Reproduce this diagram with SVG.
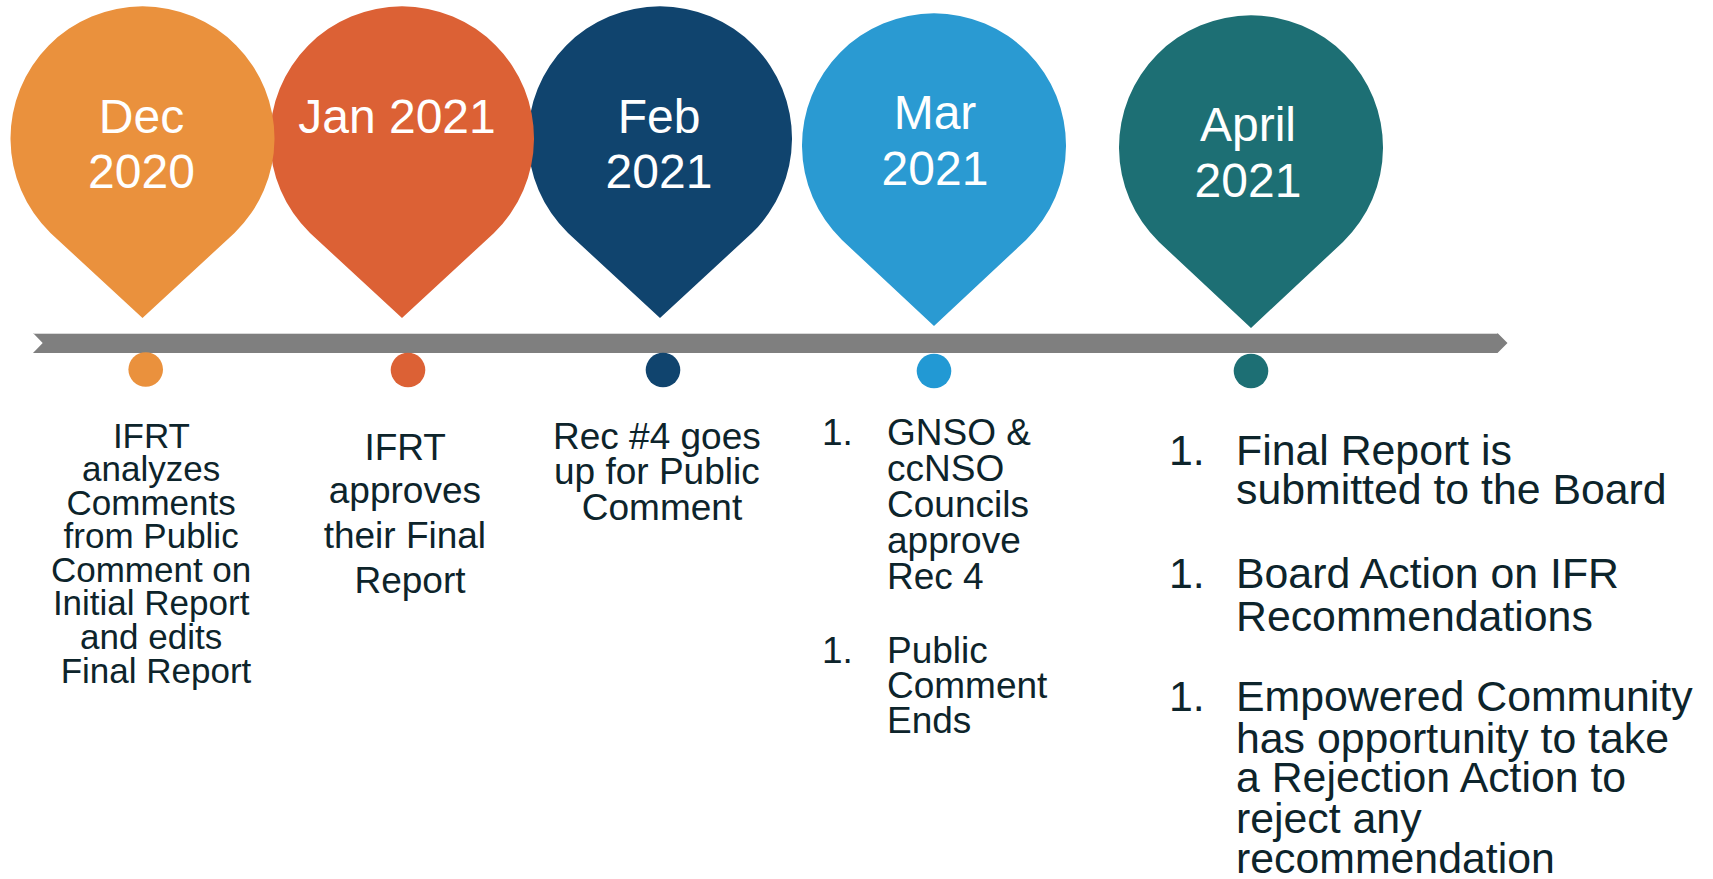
<svg xmlns="http://www.w3.org/2000/svg" width="1713" height="879" viewBox="0 0 1713 879">
<style>
.pt{font-family:"Liberation Sans",Arial,sans-serif;font-size:48px;fill:#ffffff;text-anchor:middle}
.bt{font-family:"Liberation Sans",Arial,sans-serif;fill:#0D242B}
.c{text-anchor:middle}
</style>
<rect width="1713" height="879" fill="#ffffff"/>
<g id="connectors">
  <path d="M33,333 L1497.5,333 L1507.5,343 L1497.5,353 L33,353 L42.7,343 Z" fill="#7F7F7F"/>
  <line x1="33" y1="333.5" x2="1497.5" y2="333.5" stroke="#D9D9D9" stroke-width="1"/>
</g>
<g id="pin-feb">
  <path d="M660,318 L568,233 A132,132 0 1 1 752,233 Z" fill="#10446E"/>
  <text class="pt" x="659" y="133">Feb</text>
  <text class="pt" x="659" y="188">2021</text>
</g>
<g id="pin-jan">
  <path d="M402,318 L310,233 A132,132 0 1 1 494,233 Z" fill="#DC6135"/>
  <text class="pt" x="397" y="133">Jan 2021</text>
</g>
<g id="pin-dec">
  <path d="M142.5,318 L50.5,233 A132,132 0 1 1 234.5,233 Z" fill="#EA913D"/>
  <text class="pt" x="141.5" y="133">Dec</text>
  <text class="pt" x="141.5" y="188">2020</text>
</g>
<g id="pin-mar">
  <path d="M934,326 L842,240 A132,132 0 1 1 1026,240 Z" fill="#2A9AD2"/>
  <text class="pt" x="935" y="129">Mar</text>
  <text class="pt" x="935" y="185">2021</text>
</g>
<g id="pin-apr">
  <path d="M1251,328 L1159,242 A132,132 0 1 1 1343,242 Z" fill="#1D6F74"/>
  <text class="pt" x="1248" y="141">April</text>
  <text class="pt" x="1248" y="197">2021</text>
</g>
<g id="dot-dec"><circle cx="145.7" cy="369.5" r="17.3" fill="#EA913D"/></g>
<g id="dot-jan"><circle cx="408" cy="370" r="17.3" fill="#DC6135"/></g>
<g id="dot-feb"><circle cx="663" cy="370" r="17.3" fill="#10446E"/></g>
<g id="dot-mar"><circle cx="934" cy="371" r="17.3" fill="#2299D4"/></g>
<g id="dot-apr"><circle cx="1251" cy="371" r="17.3" fill="#1D6F74"/></g>
<g id="text-dec">
  <text class="bt c" font-size="35" x="156">
    <tspan x="156" y="448">IFRT</tspan>
    <tspan x="156" y="481">analyzes</tspan>
    <tspan x="156" y="515">Comments</tspan>
    <tspan x="156" y="548">from Public</tspan>
    <tspan x="156" y="582">Comment on</tspan>
    <tspan x="156" y="615">Initial Report</tspan>
    <tspan x="156" y="649">and edits</tspan>
    <tspan x="156" y="683">Final Report</tspan>
  </text>
</g>
<g id="text-jan">
  <text class="bt c" font-size="37" x="410">
    <tspan x="410" y="460">IFRT</tspan>
    <tspan x="410" y="503">approves</tspan>
    <tspan x="410" y="548">their Final</tspan>
    <tspan x="410" y="593">Report</tspan>
  </text>
</g>
<g id="text-feb">
  <text class="bt c" font-size="37" x="662">
    <tspan x="662" y="449">Rec #4 goes</tspan>
    <tspan x="662" y="484">up for Public</tspan>
    <tspan x="662" y="520">Comment</tspan>
  </text>
</g>
<g id="text-mar">
  <text class="bt" font-size="37">
    <tspan x="822" y="445">1.</tspan>
    <tspan x="887" y="445">GNSO &amp;</tspan>
    <tspan x="887" y="481">ccNSO</tspan>
    <tspan x="887" y="517">Councils</tspan>
    <tspan x="887" y="553">approve</tspan>
    <tspan x="887" y="589">Rec 4</tspan>
    <tspan x="822" y="663">1.</tspan>
    <tspan x="887" y="663">Public</tspan>
    <tspan x="887" y="698">Comment</tspan>
    <tspan x="887" y="733">Ends</tspan>
  </text>
</g>
<g id="text-apr">
  <text class="bt" font-size="42.8">
    <tspan x="1169" y="465">1.</tspan>
    <tspan x="1236" y="465">Final Report is</tspan>
    <tspan x="1236" y="504">submitted to the Board</tspan>
    <tspan x="1169" y="588">1.</tspan>
    <tspan x="1236" y="588">Board Action on IFR</tspan>
    <tspan x="1236" y="631">Recommendations</tspan>
    <tspan x="1169" y="711">1.</tspan>
    <tspan x="1236" y="711">Empowered Community</tspan>
    <tspan x="1236" y="753">has opportunity to take</tspan>
    <tspan x="1236" y="792">a Rejection Action to</tspan>
    <tspan x="1236" y="833">reject any</tspan>
    <tspan x="1236" y="873">recommendation</tspan>
  </text>
</g>
</svg>
